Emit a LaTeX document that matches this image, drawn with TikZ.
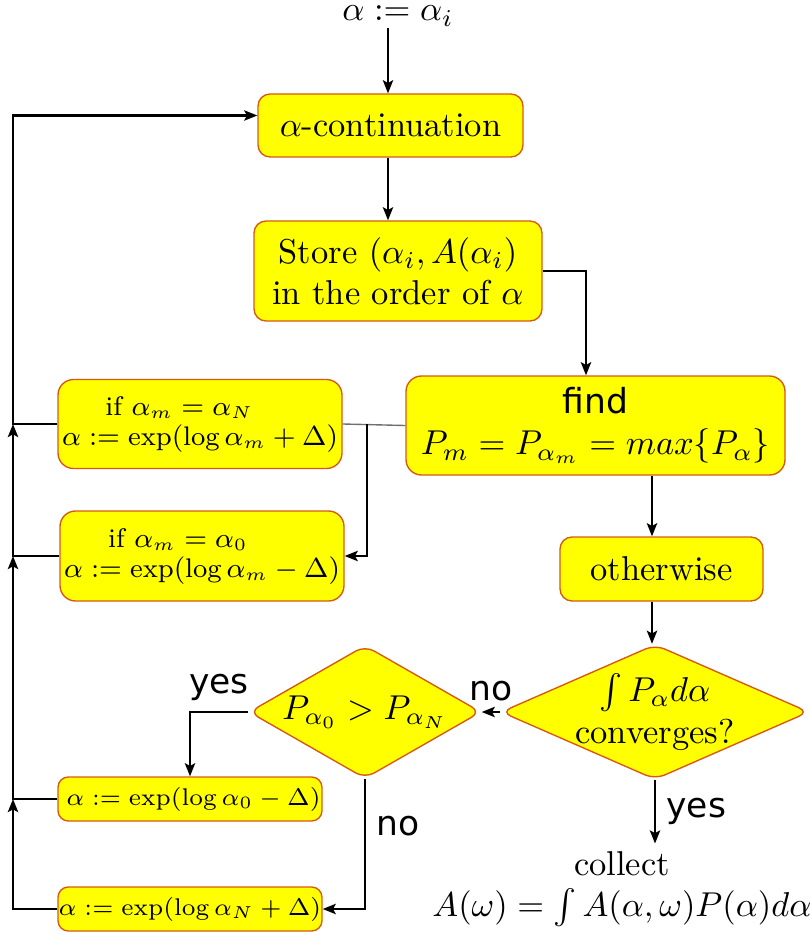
\documentclass[tikz,border=0pt]{standalone}
\usepackage{fontspec}
\newfontfamily\labelfont{DejaVu Sans}
\usetikzlibrary{shapes.geometric,arrows.meta,calc}
\definecolor{boxfill}{RGB}{255,255,0}
\definecolor{boxedge}{RGB}{214,90,20}
\definecolor{tielink}{RGB}{110,110,110}
\newcommand\pxu{0.29pt}
\begin{document}
\begin{tikzpicture}[x=0.29pt,y=-0.29pt,
  box/.style={draw=boxedge, fill=boxfill, line width=0.4pt, rounded corners=3.5pt,
              align=center, inner sep=0pt},
  dia/.style={diamond, draw=boxedge, fill=boxfill, line width=0.4pt, rounded corners=3pt,
              align=center},
  smalltext/.style={font=\fontsize{7.8}{8.7}\selectfont},
  tinytext/.style={font=\fontsize{7.0}{8.4}\selectfont},
  arr/.style={line width=0.6pt, -{Stealth[length=3.8pt,width=3pt,inset=0.8pt]}},
  tie/.style={line width=0.4pt, draw=tielink},
  lbl/.style={font=\labelfont, inner sep=3pt}]

\path[use as bounding box] (0,0) rectangle (810,935);

% helper columns for the vertical runs
\coordinate (spine) at (388,0);
\coordinate (fjoin) at (586,0);
\coordinate (mid)   at (652,0);
\coordinate (split) at (367,0);
\coordinate (rail)  at (13,0);

% main column
\node[inner sep=0.5pt] (start) at (398,16) {$\alpha:=\alpha_i$};
\node[box, minimum width=265*\pxu, minimum height=63*\pxu] (acont) at (390.5,125.5)
  {$\alpha$-continuation};
\node[box, minimum width=288*\pxu, minimum height=100*\pxu] (store) at (398,271)
  {Store $(\alpha_i,A(\alpha_i)$\\in the order of $\alpha$};
\node[box, rounded corners=4.5pt, minimum width=379*\pxu, minimum height=99*\pxu] (find)
  at (595.5,425.5) {{\labelfont find}\\$P_m=P_{\alpha_m}=max\{P_\alpha\}$};
\node[box, minimum width=203*\pxu, minimum height=64*\pxu] (other) at (661.5,569)
  {otherwise};
\node[dia, aspect=2.28, inner sep=-1.7pt, minimum width=308*\pxu, minimum height=135*\pxu]
  (d1) at (655,712) {$\int P_\alpha d\alpha$\\converges?};
\node[dia, aspect=1.74, inner sep=0pt, minimum width=232*\pxu, minimum height=133*\pxu]
  (d2) at (365,712) {$P_{\alpha_0}>P_{\alpha_N}$};
\node[align=center, inner sep=2pt] (collect) at (622,889)
  {collect\\$A(\omega)=\int A(\alpha,\omega)P(\alpha)d\alpha$};

% update boxes on the left
\node[box, smalltext, rounded corners=4.5pt, minimum width=284*\pxu, minimum height=89*\pxu]
  (b1) at (200,424)
  {if $\alpha_m=\alpha_N$\hspace*{12pt}\\$\alpha:=\exp(\log\alpha_m+\Delta)$};
\node[box, smalltext, rounded corners=4.5pt, minimum width=284*\pxu, minimum height=90*\pxu]
  (b2) at (202,556)
  {if $\alpha_m=\alpha_0$\hspace*{14pt}\\$\alpha:=\exp(\log\alpha_m-\Delta)$};
\node[box, tinytext, rounded corners=3pt, minimum width=264*\pxu, minimum height=44*\pxu]
  (b3) at (190,799) {\hspace*{2pt}$\alpha:=\exp(\log\alpha_0-\Delta)$};
\node[box, tinytext, rounded corners=3pt, minimum width=264*\pxu, minimum height=44*\pxu]
  (b4) at (190,909) {$\alpha:=\exp(\log\alpha_N+\Delta)$};

% main flow
\draw[arr] (spine |- start.south) -- (spine |- acont.north);
\draw[arr] (spine |- acont.south) -- (spine |- store.north);
\draw[arr] (store.east) -| (fjoin |- find.north);
\draw[arr] (mid |- find.south) -- (mid |- other.north);
\draw[arr] (mid |- other.south) -- (mid |- d1.north);
\draw[arr] (d1.west) -- node[lbl, above] (no1) {no} (d2.east);
\draw[arr] (d1.south) -- node[lbl, right] (yes1) {yes} (d1.south |- collect.north);
\draw[arr] (d2.west) -| node[lbl, above, pos=0.25] (yes2) {yes} (b3.north);
\draw[arr] (d2.south) |- node[lbl, right, pos=0.18] (no2) {no} (b4.east);

% branch from the maximum search
\draw[tie] (find.west) -- (b1.east);
\draw[arr] (split |- b1.east) |- (b2.east);

% return rail on the left
\draw[arr] (b4.west) -- (b4.west -| rail) -- (b3.west -| rail);
\draw[arr] (b3.west) -- (b3.west -| rail) -- (b2.west -| rail);
\draw[arr] (b2.west) -- (b2.west -| rail) -- (b1.west -| rail);
\draw[arr] (b1.west) -- (b1.west -| rail) |- ($(acont.west)+(0,-10)$);
\end{tikzpicture}
\end{document}
